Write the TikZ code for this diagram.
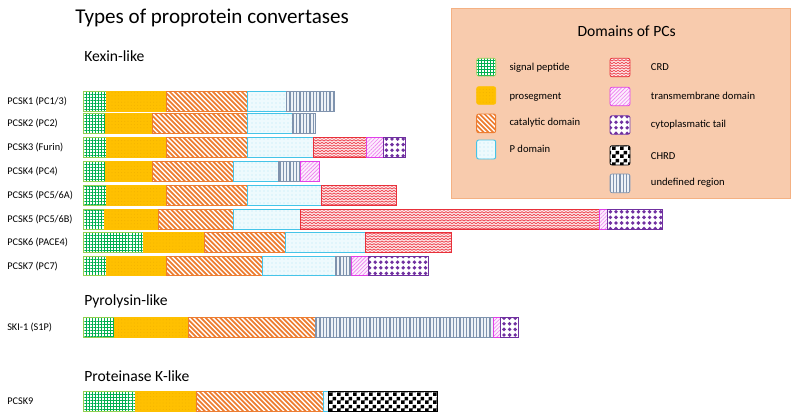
\documentclass[tikz,border=0pt]{standalone}
\usepackage{fontspec}
\setmainfont{Carlito}
\usetikzlibrary{patterns.meta}
\definecolor{sigc}{HTML}{00B050}
\definecolor{sigb}{HTML}{92D050}
\definecolor{proc}{HTML}{FFC000}
\definecolor{prodot}{HTML}{F0B000}
\definecolor{catc}{HTML}{ED7D31}
\definecolor{pc}{HTML}{45C4E8}
\definecolor{pbg}{HTML}{EEFAFD}
\definecolor{crdc}{HTML}{EE4450}
\definecolor{crdb}{HTML}{E8303A}
\definecolor{crdbg}{HTML}{FDE8E9}
\definecolor{tmc}{HTML}{E040E8}
\definecolor{tml}{HTML}{EE80F0}
\definecolor{tmbg}{HTML}{FCEEFD}
\definecolor{cytc}{HTML}{7030A0}
\definecolor{undc}{HTML}{7F93AE}
\definecolor{undbg}{HTML}{EEF2F7}
\definecolor{legbg}{HTML}{F8CBAD}
\definecolor{legb}{HTML}{F4B183}
\pgfdeclarepattern{name=pczig,type=uncolored,
  bottom left={\pgfpoint{-0.5pt}{-0.5pt}},top right={\pgfpoint{3.5pt}{2.5pt}},
  tile size={\pgfpoint{3pt}{2pt}},
  code={\pgfsetlinewidth{0.6pt}\pgfpathmoveto{\pgfpoint{0pt}{0.5pt}}\pgfpathlineto{\pgfpoint{1.5pt}{1.5pt}}\pgfpathlineto{\pgfpoint{3pt}{0.5pt}}\pgfusepath{stroke}}}
\pgfdeclarepattern{name=pcchecker,type=uncolored,
  bottom left={\pgfpoint{0pt}{0pt}},top right={\pgfpoint{5.6pt}{5.6pt}},
  tile size={\pgfpoint{5.6pt}{5.6pt}},
  code={\pgfpathrectangle{\pgfpointorigin}{\pgfpoint{2.8pt}{2.8pt}}\pgfpathrectangle{\pgfpoint{2.8pt}{2.8pt}}{\pgfpoint{2.8pt}{2.8pt}}\pgfusepath{fill}}}
\tikzset{
  sigp/.style={draw=sigb, line width=0.5pt, preaction={fill=white}, pattern={Hatch[angle=0,distance=2.3pt,line width=0.5pt]}, pattern color=sigc},
  prop/.style={draw=proc, line width=0.5pt, preaction={fill=proc}, pattern={Dots[distance=2.4pt,radius=0.35pt]}, pattern color=prodot},
  catstripe/.style={draw=catc, line width=1.3pt},
  catframe/.style={draw=catc, line width=0.7pt},
  pdp/.style={draw=pc, line width=0.7pt, preaction={fill=pbg}, pattern={Dots[distance=3pt,radius=0.35pt]}, pattern color=pc},
  crdp/.style={draw=crdb, line width=0.6pt, preaction={fill=crdbg}, pattern=pczig, pattern color=crdc},
  tmp/.style={draw=tmc, line width=0.6pt, preaction={fill=tmbg}, pattern={Lines[angle=45,distance=2pt,line width=0.45pt]}, pattern color=tml},
  cytp/.style={draw=cytc, line width=0.6pt, preaction={fill=white}, pattern={Dots[distance=4.2pt,radius=1.45pt]}, pattern color=cytc},
  chrdp/.style={draw=black, line width=0.6pt, preaction={fill=white}, pattern=pcchecker, pattern color=black},
  undp/.style={draw=undc, line width=0.5pt, preaction={fill=undbg}, pattern={Lines[angle=90,distance=2.5pt,line width=0.95pt]}, pattern color=undc},
  lbl/.style={anchor=west, inner sep=0pt, font=\fontsize{7.7}{9}\selectfont},
  head/.style={anchor=base west, inner sep=0pt, font=\fontsize{11.7}{14}\selectfont},
  legtxt/.style={anchor=west, inner sep=0pt, font=\fontsize{7.95}{10}\selectfont},
  sw/.style={rounded corners=1.5pt},
  plain/.style={}
}
\newcommand\pcseg[5]{\path[#1] (#2,#4) rectangle (#3,#5);}
\newcommand\pccat[5]{%
  \begin{scope}
    \path[#1,clip] (#2,#4) rectangle (#3,#5);
    \fill[white] (#2,#4) rectangle (#3,#5);
    \foreach \i in {0,...,33} \draw[catstripe] ({#2-22+4.8*\i},{#4-1}) -- ++(23,23);
  \end{scope}
  \path[#1,catframe] (#2,#4) rectangle (#3,#5);}
\begin{document}
\begin{tikzpicture}[x=0.75pt,y=-0.75pt]
\useasboundingbox (0,0) rectangle (796,419);
% title and headings
\node[anchor=base west, inner sep=0pt, font=\fontsize{15.8}{19}\selectfont] (title) at (75,23.5) {Types of proprotein convertases};
\node[head] (kexin) at (84,61) {Kexin-like};
\node[head] (pyro) at (84,305) {Pyrolysin-like};
\node[head] (protk) at (84,381.5) {Proteinase K-like};
% legend
\path[fill=legbg, draw=legb, line width=0.5pt] (451.7,8.3) rectangle (790.7,198.3);
\node[font=\fontsize{11.7}{14}\selectfont, inner sep=0pt] (legtitle) at (626.7,31) {Domains of PCs};
\pcseg{sigp,sw}{476.7}{495.7}{58.3}{76}
\pcseg{prop,sw}{476.7}{495.7}{86.7}{104.3}
\pccat{sw}{476.7}{495.7}{114}{132.7}
\pcseg{pdp,sw}{476.7}{495.7}{140}{159}
\pcseg{crdp,sw}{610}{630}{58.3}{76.7}
\pcseg{tmp,sw}{610}{630}{87.3}{105.7}
\pcseg{cytp,sw}{610}{630}{115.7}{134.3}
\pcseg{chrdp,sw}{610}{630}{145.7}{165}
\pcseg{undp,sw}{610}{630}{174}{192.7}
\node[legtxt] (lsig) at (509.3,67.7) {signal peptide};
\node[legtxt] (lpro) at (509.3,96.7) {prosegment};
\node[legtxt] (lcat) at (509.3,123) {catalytic domain};
\node[legtxt] (lpd) at (509.3,149.3) {P domain};
\node[legtxt] (lcrd) at (650.7,66.7) {CRD};
\node[legtxt] (ltm) at (650.7,96) {transmembrane domain};
\node[legtxt] (lcyt) at (650.7,125) {cytoplasmatic tail};
\node[legtxt] (lchrd) at (650.7,155.7) {CHRD};
\node[legtxt] (lund) at (650.7,182.3) {undefined region};
% PCSK1
\node[lbl] (n1) at (7,101) {PCSK1 (PC1/3)};
\pcseg{sigp}{83}{106}{91}{111}
\pcseg{prop}{106}{166}{91}{111}
\pccat{plain}{166}{247}{91}{111}
\pcseg{pdp}{247}{286}{91}{111}
\pcseg{undp}{286}{334}{91}{111}
% PCSK2
\node[lbl] (n2) at (7,123.5) {PCSK2 (PC2)};
\pcseg{sigp}{83}{105}{113.5}{133.5}
\pcseg{prop}{105}{152}{113.5}{133.5}
\pccat{plain}{152}{247}{113.5}{133.5}
\pcseg{pdp}{247}{292}{113.5}{133.5}
\pcseg{undp}{292}{315}{113.5}{133.5}
% PCSK3
\node[lbl] (n3) at (7,147.5) {PCSK3 (Furin)};
\pcseg{sigp}{83}{106}{137.5}{157.5}
\pcseg{prop}{106}{166}{137.5}{157.5}
\pccat{plain}{166}{247}{137.5}{157.5}
\pcseg{pdp}{247}{313}{137.5}{157.5}
\pcseg{crdp}{313}{366}{137.5}{157.5}
\pcseg{tmp}{366}{383}{137.5}{157.5}
\pcseg{cytp}{383}{405}{137.5}{157.5}
% PCSK4
\node[lbl] (n4) at (7,171) {PCSK4 (PC4)};
\pcseg{sigp}{83}{105}{161}{181}
\pcseg{prop}{105}{152}{161}{181}
\pccat{plain}{152}{233}{161}{181}
\pcseg{pdp}{233}{278}{161}{181}
\pcseg{undp}{278}{300}{161}{181}
\pcseg{tmp}{300}{319}{161}{181}
% PCSK5A
\node[lbl] (n5) at (7,195) {PCSK5 (PC5/6A)};
\pcseg{sigp}{83}{106}{185}{205}
\pcseg{prop}{106}{166}{185}{205}
\pccat{plain}{166}{247}{185}{205}
\pcseg{pdp}{247}{321}{185}{205}
\pcseg{crdp}{321}{396}{185}{205}
% PCSK5B
\node[lbl] (n6) at (7,219) {PCSK5 (PC5/6B)};
\pcseg{sigp}{83}{104}{209}{229}
\pcseg{prop}{104}{158}{209}{229}
\pccat{plain}{158}{233}{209}{229}
\pcseg{pdp}{233}{300}{209}{229}
\pcseg{crdp}{300}{599}{209}{229}
\pcseg{tmp}{599}{607}{209}{229}
\pcseg{cytp}{607}{662}{209}{229}
% PCSK6
\node[lbl] (n7) at (7,242.5) {PCSK6 (PACE4)};
\pcseg{sigp}{83}{143}{232.5}{252.5}
\pcseg{prop}{143}{204}{232.5}{252.5}
\pccat{plain}{204}{285}{232.5}{252.5}
\pcseg{pdp}{285}{365}{232.5}{252.5}
\pcseg{crdp}{365}{451}{232.5}{252.5}
% PCSK7
\node[lbl] (n8) at (7,266) {PCSK7 (PC7)};
\pcseg{sigp}{83}{106}{256}{275.5}
\pcseg{prop}{106}{166}{256}{275.5}
\pccat{plain}{166}{262}{256}{275.5}
\pcseg{pdp}{262}{335}{256}{275.5}
\pcseg{undp}{335}{351}{256}{275.5}
\pcseg{tmp}{351}{368}{256}{275.5}
\pcseg{cytp}{368}{428}{256}{275.5}
% SKI-1
\node[lbl] (n9) at (7,327.5) {SKI-1 (S1P)};
\pcseg{sigp}{83}{114}{317.5}{337.5}
\pcseg{prop}{114}{188}{317.5}{337.5}
\pccat{plain}{188}{315}{317.5}{337.5}
\pcseg{undp}{315}{493}{317.5}{337.5}
\pcseg{tmp}{493}{500}{317.5}{337.5}
\pcseg{cytp}{500}{518}{317.5}{337.5}
% PCSK9
\node[lbl] (n10) at (7,401) {PCSK9};
\pcseg{sigp}{83}{135}{391}{411}
\pcseg{prop}{135}{196}{391}{411}
\pccat{plain}{196}{323}{391}{411}
\pcseg{pdp}{323}{328.5}{391}{411}
\pcseg{chrdp}{328.5}{437}{391}{411}
\end{tikzpicture}
\end{document}
